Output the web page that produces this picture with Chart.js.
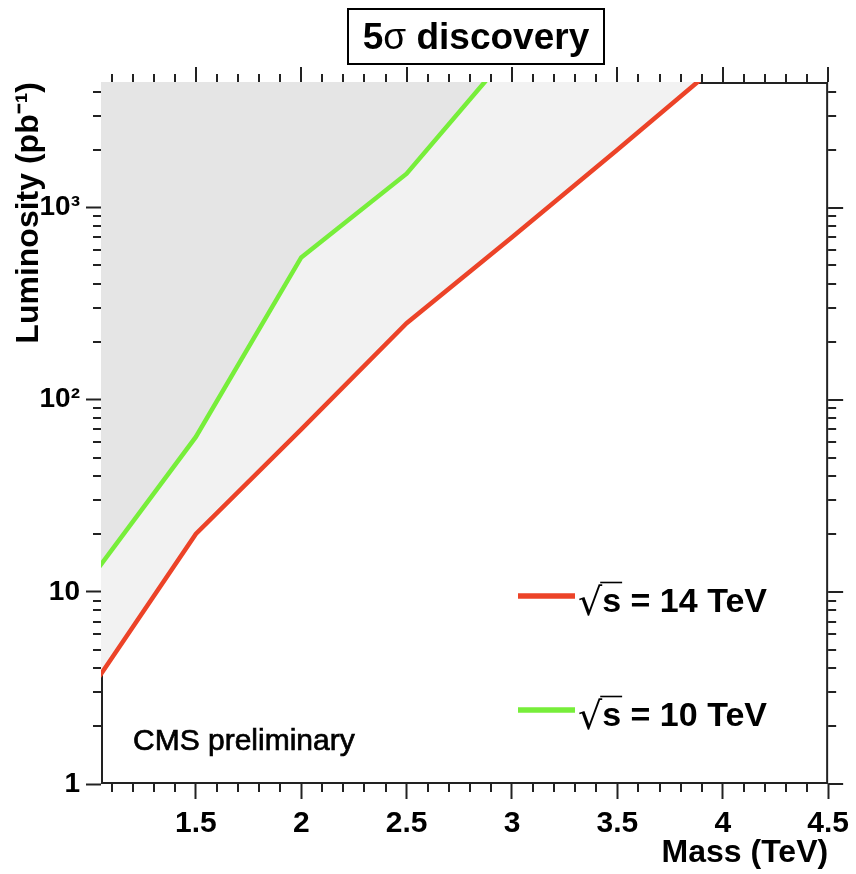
<!DOCTYPE html>
<html>
<head>
<meta charset="utf-8">
<script src="https://cdn.jsdelivr.net/npm/chart.js@4/dist/chart.umd.min.js"></script>
<style>
html,body{margin:0;padding:0;background:#fff;}
#wrap{width:856px;height:874px;position:relative;}
</style>
</head>
<body>
<div id="wrap"><canvas id="c" width="856" height="874"></canvas></div>
<script>
// ---- data ----
const masses14 = [1.0, 1.5, 2.0, 2.5, 3.0, 3.5, 4.0];
const lumi14   = [3.1, 20, 70, 250, 700, 2000, 5800];
const masses10 = [1.0, 1.5, 2.0, 2.5, 3.0];
const lumi10   = [11.7, 64, 550, 1500, 6600];
const seriesLabels = ['√s = 14 TeV', '√s = 10 TeV'];
const xTickValues = [1.5, 2, 2.5, 3, 3.5, 4, 4.5];
const xTickLabels = ['1.5', '2', '2.5', '3', '3.5', '4', '4.5'];
const yTickValues = [1, 10, 100, 1000];
const yTickLabels = ['1', '10', '10²', '10³'];
const xRange = [1.05, 4.5];
const yRange = [1, 4500];
const titleParts = ['5', 'σ', ' discovery'];
const xTitle = 'Mass (TeV)';
const yTitle = 'Luminosity (pb⁻¹)';
const noteText = 'CMS preliminary';

// ---- styles ----
const FONT = "'Liberation Sans', Arial, Helvetica, sans-serif";
const RED = '#ec4328';
const GREEN = '#77ee3a';
const DARKFILL = '#e5e5e5';
const LIGHTFILL = '#f2f2f2';
const AXIS = '#222';

function xMinorValues() {
  const out = [];
  for (let k = Math.ceil(xRange[0] * 10); k <= Math.floor(xRange[1] * 10); k++) {
    if (k % 5 !== 0) out.push(k / 10);
  }
  return out;
}
function yMinorValues() {
  const out = [];
  for (let d = 1; d <= yRange[1]; d *= 10) {
    for (let k = 2; k <= 9; k++) if (d * k <= yRange[1]) out.push(d * k);
  }
  return out;
}

const framePlugin = {
  id: 'frame',
  beforeDatasetsDraw(chart) {
    const {ctx, chartArea: a, scales: {x, y}} = chart;
    ctx.save();
    ctx.strokeStyle = AXIS;
    ctx.lineWidth = 2;
    ctx.beginPath();
    ctx.moveTo(a.left, a.bottom - 1); ctx.lineTo(a.right, a.bottom - 1);
    ctx.moveTo(a.right - 1, a.top); ctx.lineTo(a.right - 1, a.bottom);
    ctx.moveTo(a.left, a.top + 1); ctx.lineTo(a.right, a.top + 1);
    ctx.moveTo(a.left + 1, a.top); ctx.lineTo(a.left + 1, a.bottom);
    ctx.stroke();
    const MAJ = 15, MIN = 8;
    ctx.beginPath();
    xMinorValues().forEach(v => {
      const px = Math.round(x.getPixelForValue(v));
      ctx.moveTo(px, a.bottom); ctx.lineTo(px, a.bottom + MIN);
      ctx.moveTo(px, a.top); ctx.lineTo(px, a.top - MIN);
    });
    xTickValues.forEach(v => {
      const px = Math.round(x.getPixelForValue(v));
      ctx.moveTo(px, a.top); ctx.lineTo(px, a.top - MAJ);
    });
    yMinorValues().forEach(v => {
      const py = Math.round(y.getPixelForValue(v));
      ctx.moveTo(a.left, py); ctx.lineTo(a.left - MIN, py);
      ctx.moveTo(a.right, py); ctx.lineTo(a.right + MIN, py);
    });
    yTickValues.forEach(v => {
      const py = Math.round(y.getPixelForValue(v));
      ctx.moveTo(a.right, py); ctx.lineTo(a.right + MAJ, py);
    });
    ctx.stroke();
    ctx.restore();
  },
  afterDraw(chart) {
    const {ctx} = chart;
    ctx.save();
    // title box
    ctx.fillStyle = '#fff';
    ctx.fillRect(348, 9, 256, 55);
    ctx.strokeStyle = '#000';
    ctx.lineWidth = 2;
    ctx.strokeRect(348, 9, 256, 55);
    const fonts = [`bold 37px ${FONT}`, `37px ${FONT}`, `bold 37px ${FONT}`];
    let total = 0;
    const widths = titleParts.map((t, i) => { ctx.font = fonts[i]; const w = ctx.measureText(t).width; total += w; return w; });
    let tx = 476 - total / 2;
    ctx.fillStyle = '#000';
    ctx.textBaseline = 'alphabetic';
    ctx.textAlign = 'left';
    titleParts.forEach((t, i) => { ctx.font = fonts[i]; ctx.fillText(t, tx, 49); tx += widths[i]; });

    // legend
    const ds = chart.data.datasets;
    const items = [{ds: ds[1], y: 596}, {ds: ds[0], y: 710}];
    items.forEach(it => {
      ctx.strokeStyle = it.ds.borderColor;
      ctx.lineWidth = 5.5;
      ctx.beginPath();
      ctx.moveTo(518, it.y); ctx.lineTo(575, it.y);
      ctx.stroke();
      const label = it.ds.label;
      const root = label[0], rest = label.slice(1);
      const base = it.y + 16;
      ctx.fillStyle = '#000';
      ctx.font = `38px 'DejaVu Sans', ${FONT}`;
      ctx.fillText(root, 578, base + 3);
      const rw = ctx.measureText(root).width;
      ctx.font = `bold 34px ${FONT}`;
      ctx.fillText(rest, 578 + rw, base);
      const sw = ctx.measureText(rest[0]).width;
      ctx.strokeStyle = '#000';
      ctx.lineWidth = 1.6;
      ctx.beginPath();
      ctx.moveTo(578 + rw - 2, base - 29.5);
      ctx.lineTo(578 + rw + sw + 1, base - 29.5);
      ctx.stroke();
    });

    // note
    ctx.font = `30px ${FONT}`;
    ctx.fillStyle = '#000';
    ctx.strokeStyle = '#000';
    ctx.lineWidth = 0.7;
    ctx.fillText(noteText, 133, 750);
    ctx.strokeText(noteText, 133, 750);
    ctx.restore();
  }
};

new Chart(document.getElementById('c'), {
  type: 'line',
  data: {
    datasets: [
      {
        label: seriesLabels[1],
        data: masses10.map((m, i) => ({x: m, y: lumi10[i]})),
        borderColor: GREEN, backgroundColor: DARKFILL, fill: 'end',
        borderWidth: 4.5, pointRadius: 0, tension: 0, clip: 0
      },
      {
        label: seriesLabels[0],
        data: masses14.map((m, i) => ({x: m, y: lumi14[i]})),
        borderColor: RED, backgroundColor: LIGHTFILL, fill: 'end',
        borderWidth: 4.5, pointRadius: 0, tension: 0, clip: 0
      }
    ]
  },
  options: {
    responsive: false,
    animation: false,
    events: [],
    layout: {padding: {left: 0, right: 26, top: 82, bottom: 0}},
    plugins: {legend: {display: false}, tooltip: {enabled: false}, title: {display: false}},
    scales: {
      x: {
        type: 'linear', min: xRange[0], max: xRange[1],
        afterBuildTicks: s => { s.ticks = xTickValues.map(v => ({value: v})); },
        afterFit: s => { s.height = 90; },
        border: {display: false},
        grid: {drawOnChartArea: false, tickLength: 15, tickWidth: 2, tickColor: AXIS},
        ticks: {
          autoSkip: false, maxRotation: 0, minRotation: 0, padding: 7, color: '#000',
          font: {family: FONT, size: 30, weight: 'bold'},
          callback: (v, i) => xTickLabels[i]
        },
        title: {display: true, text: xTitle, align: 'end', color: '#000',
          font: {family: FONT, size: 32, weight: 'bold'}, padding: {top: 0, bottom: 2}}
      },
      y: {
        type: 'logarithmic', min: yRange[0], max: yRange[1],
        afterBuildTicks: s => { s.ticks = yTickValues.map(v => ({value: v, major: true})); },
        afterFit: s => { s.width = 101; },
        border: {display: false},
        grid: {drawOnChartArea: false, tickLength: 15, tickWidth: 2, tickColor: AXIS},
        ticks: {
          autoSkip: false, padding: 6, color: '#000',
          font: {family: FONT, size: 28, weight: 'bold'},
          callback: (v, i) => yTickLabels[i]
        },
        title: {display: true, text: yTitle, align: 'end', color: '#000',
          font: {family: FONT, size: 32, weight: 'bold'}, padding: {top: 10, bottom: 0}}
      }
    }
  },
  plugins: [framePlugin]
});
</script>
</body>
</html>
